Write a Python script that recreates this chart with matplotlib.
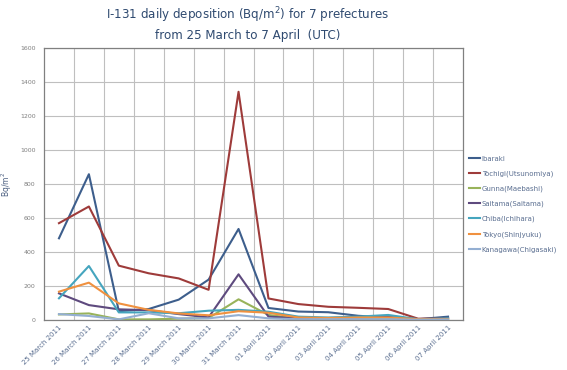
import numpy as np
import matplotlib.pyplot as plt

dates = ['25 March 2011', '26 March 2011', '27 March 2011', '28 March 2011',
         '29 March 2011', '30 March 2011', '31 March 2011', '01 April 2011',
         '02 April 2011', '03 April 2011', '04 April 2011', '05 April 2011',
         '06 April 2011', '07 April 2011']

ibaraki = [481, 858, 52, 65, 120, 238, 536, 71, 50, 46, 25, 15, 5, 20]
tochigi = [570, 668, 320, 275, 245, 178, 1343, 127, 94, 78, 72, 65, 8, 10]
gunma = [33, 39, 4, 4, 8, 12, 122, 30, 8, 5, 5, 5, 2, 3]
saitama = [157, 88, 63, 58, 35, 16, 269, 20, 10, 12, 15, 18, 5, 8]
chiba = [128, 318, 45, 45, 40, 55, 60, 49, 20, 15, 20, 30, 5, 10]
tokyo = [167, 220, 98, 60, 39, 28, 52, 43, 15, 12, 15, 15, 5, 5]
kanagawa = [35, 24, 4, 40, 10, 10, 29, 10, 5, 5, 5, 5, 2, 3]

names = ['Ibaraki', 'Tochigi(Utsunomiya)', 'Gunna(Maebashi)', 'Saitama(Saitama)',
         'Chiba(Ichihara)', 'Tokyo(Shinjyuku)', 'Kanagawa(Chigasaki)']
series = [ibaraki, tochigi, gunma, saitama, chiba, tokyo, kanagawa]
colors = ['#3D5E8C', '#9E3B3A', '#98B35A', '#5E4A7E', '#45A5BE', '#F0913F', '#94AFD2']

fig = plt.figure(figsize=(5.67, 3.70), dpi=100)
ax = fig.add_axes([0.0776, 0.135, 0.739, 0.735])

x = np.arange(len(dates))
for vals, name, c in zip(series, names, colors):
    ax.plot(x, vals, color=c, lw=1.5, label=name)

ax.set_xlim(-0.5, len(dates) - 0.5)
ax.set_ylim(0, 1600)
ax.set_yticks(np.arange(0, 1601, 200))
ax.tick_params(axis='y', labelsize=4.5, labelcolor='#7F7F7F', length=0, pad=6)
ax.set_xticks(x)
ax.set_xticklabels(dates, rotation=45, ha='right', rotation_mode='anchor',
                   fontsize=5, color='#5A6E90')
ax.tick_params(axis='x', length=0, pad=3)

# vertical grid lines sit between the categories
ax.set_xticks(x[:-1] + 0.5, minor=True)
ax.grid(True, which='minor', axis='x', color='#BFBFBF', lw=0.8)
ax.grid(True, which='major', axis='y', color='#BFBFBF', lw=0.8)
ax.tick_params(which='minor', length=0)
ax.set_axisbelow(True)
for s in ax.spines.values():
    s.set_color('#808080')
    s.set_linewidth(0.9)

ax.set_ylabel('Bq/m$^2$', fontsize=5.5, color='#4A5E80')
ax.yaxis.set_label_coords(-0.072, 0.5)

fig.suptitle('I-131 daily deposition (Bq/m$^2$) for 7 prefectures\nfrom 25 March to 7 April  (UTC)',
             x=0.437, y=0.985, fontsize=8.6, color='#2F4A70', linespacing=1.4)

ax.legend(loc='center left', bbox_to_anchor=(1.0, 0.426), frameon=False,
          fontsize=5, labelcolor='#5A6E90', handlelength=1.6, handletextpad=0.2,
          labelspacing=1.25)

fig.savefig('out.png', dpi=100)
